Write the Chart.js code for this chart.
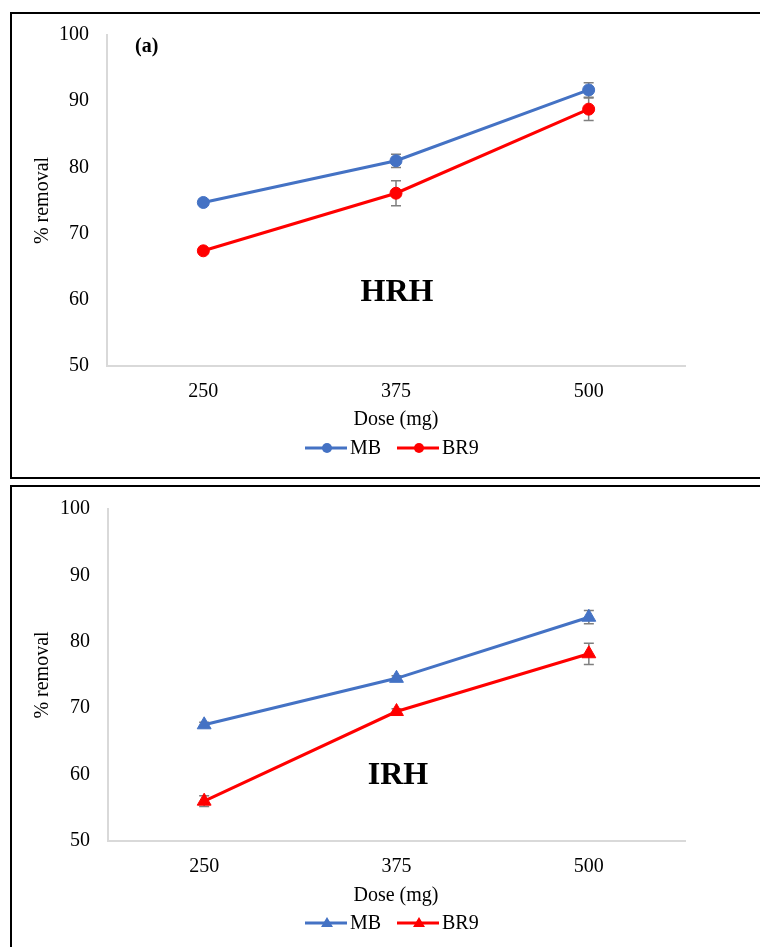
<!DOCTYPE html>
<html>
<head>
<meta charset="utf-8">
<script src="https://cdn.jsdelivr.net/npm/chart.js@4/dist/chart.umd.min.js"></script>
<style>
  body { margin: 0; background: #fff; width: 760px; height: 947px; overflow: hidden; position: relative; }
  .panel { position: absolute; left: 10px; width: 760px; border: 2px solid #000; border-right: none; box-sizing: border-box; }
  canvas { position: absolute; left: 0; }
</style>
</head>
<body>
<div class="panel" style="top:12px;height:467px"></div>
<div class="panel" style="top:485px;height:480px"></div>
<canvas id="hrhChart" width="760" height="476" style="top:0"></canvas>
<canvas id="irhChart" width="760" height="472" style="top:475px"></canvas>
<script>
// doses on the x axis
const doses = ["250", "375", "500"];

// HRH panel (a)
const hrhMB = [74.7, 81.0, 91.7];
const hrhMBErr = [0.3, 1.0, 1.1];
const hrhBR9 = [67.4, 76.1, 88.8];
const hrhBR9Err = [0.3, 1.9, 1.7];

// IRH panel
const irhMB = [67.5, 74.5, 83.7];
const irhMBErr = [0.4, 0.4, 1.0];
const irhBR9 = [56.0, 69.5, 78.2];
const irhBR9Err = [0.8, 0.4, 1.6];

const yMin = 50, yMax = 100, yStep = 10;

const SERIF = "'Liberation Serif', 'Times New Roman', serif";
const BLUE = "#4472C4";
const RED = "#FF0000";
const AXIS = "#d9d9d9";

/* error bars, drawn under the lines and markers */
const errorBars = {
  id: "errorBars",
  beforeDatasetsDraw(chart) {
    const ctx = chart.ctx;
    const y = chart.scales.y;
    ctx.save();
    ctx.strokeStyle = "#7f7f7f";
    ctx.lineWidth = 1.5;
    chart.data.datasets.forEach((ds, di) => {
      const meta = chart.getDatasetMeta(di);
      (ds.errors || []).forEach((e, i) => {
        const pt = meta.data[i];
        const top = y.getPixelForValue(ds.data[i] + e);
        const bot = y.getPixelForValue(ds.data[i] - e);
        ctx.beginPath();
        ctx.moveTo(pt.x, top); ctx.lineTo(pt.x, bot);
        ctx.moveTo(pt.x - 5, top); ctx.lineTo(pt.x + 5, top);
        ctx.moveTo(pt.x - 5, bot); ctx.lineTo(pt.x + 5, bot);
        ctx.stroke();
      });
    });
    ctx.restore();
  }
};

/* titles, legend and panel labels */
const overlay = {
  id: "overlay",
  afterDraw(chart, args, opts) {
    const ctx = chart.ctx;
    const area = chart.chartArea;
    ctx.save();
    ctx.fillStyle = "#000";
    ctx.textBaseline = "middle";

    // y title
    ctx.save();
    ctx.translate(43, (area.top + area.bottom) / 2);
    ctx.rotate(-Math.PI / 2);
    ctx.textAlign = "center";
    ctx.font = "20px " + SERIF;
    ctx.fillText("% removal", 0, 0);
    ctx.restore();

    // x title
    ctx.textAlign = "center";
    ctx.font = "20px " + SERIF;
    ctx.fillText("Dose (mg)", 396, opts.xTitleY);

    // legend
    let lx = 305;
    chart.data.datasets.forEach((ds) => {
      const ly = opts.legendY;
      const cx = lx + 22;
      ctx.strokeStyle = ds.borderColor;
      ctx.fillStyle = ds.borderColor;
      ctx.lineWidth = 3;
      ctx.beginPath();
      ctx.moveTo(lx, ly); ctx.lineTo(lx + 42, ly);
      ctx.stroke();
      ctx.beginPath();
      if (ds.pointStyle === "triangle") {
        ctx.moveTo(cx, ly - 6);
        ctx.lineTo(cx + 6, ly + 4);
        ctx.lineTo(cx - 6, ly + 4);
        ctx.closePath();
      } else {
        ctx.arc(cx, ly, 5, 0, Math.PI * 2);
      }
      ctx.fill();
      ctx.fillStyle = "#000";
      ctx.textAlign = "left";
      ctx.fillText(ds.label, lx + 45, ly + 1);
      lx += 92;
    });

    // panel tag
    if (opts.tag) {
      ctx.textAlign = "left";
      ctx.font = "bold 20px " + SERIF;
      ctx.fillText(opts.tag, 135, 47);
    }

    // big label
    ctx.textAlign = "center";
    ctx.font = "bold 32px " + SERIF;
    ctx.fillText(opts.name, opts.nameX, opts.nameY);
    ctx.restore();
  }
};

function makeChart(el, mb, mbErr, br9, br9Err, style, radius, o) {
  return new Chart(document.getElementById(el), {
    type: "line",
    data: {
      labels: doses,
      datasets: [
        { label: "MB", data: mb, errors: mbErr, borderColor: BLUE, backgroundColor: BLUE,
          borderWidth: 3, pointStyle: style, pointRadius: radius, pointBorderWidth: 1, tension: 0 },
        { label: "BR9", data: br9, errors: br9Err, borderColor: RED, backgroundColor: RED,
          borderWidth: 3, pointStyle: style, pointRadius: radius, pointBorderWidth: 1, tension: 0 }
      ]
    },
    options: {
      responsive: false,
      animation: false,
      events: [],
      layout: { padding: { left: 0, right: o.right, top: o.top, bottom: 0 } },
      plugins: {
        legend: { display: false },
        tooltip: { enabled: false },
        overlay: o
      },
      scales: {
        x: {
          offset: true,
          grid: { display: false, drawTicks: false },
          border: { display: true, color: AXIS, width: 2 },
          ticks: { color: "#000", font: { family: SERIF, size: 20 }, padding: 14 },
          afterFit: (s) => { s.height = o.xHeight; }
        },
        y: {
          min: yMin, max: yMax,
          grid: { display: false, drawTicks: false },
          border: { display: true, color: AXIS, width: 2 },
          ticks: { stepSize: yStep, color: "#000", font: { family: SERIF, size: 20 }, padding: 18 },
          afterFit: (s) => { s.width = o.left; }
        }
      }
    },
    plugins: [errorBars, overlay]
  });
}

makeChart("hrhChart", hrhMB, hrhMBErr, hrhBR9, hrhBR9Err, "circle", 6, {
  left: 107, right: 75, top: 35, xHeight: 110,
  xTitleY: 420, legendY: 448, tag: "(a)", name: "HRH", nameX: 397, nameY: 293
});

makeChart("irhChart", irhMB, irhMBErr, irhBR9, irhBR9Err, "triangle", 8, {
  left: 108, right: 75, top: 34, xHeight: 106,
  xTitleY: 421, legendY: 448, tag: null, name: "IRH", nameX: 398, nameY: 301
});
</script>
</body>
</html>
